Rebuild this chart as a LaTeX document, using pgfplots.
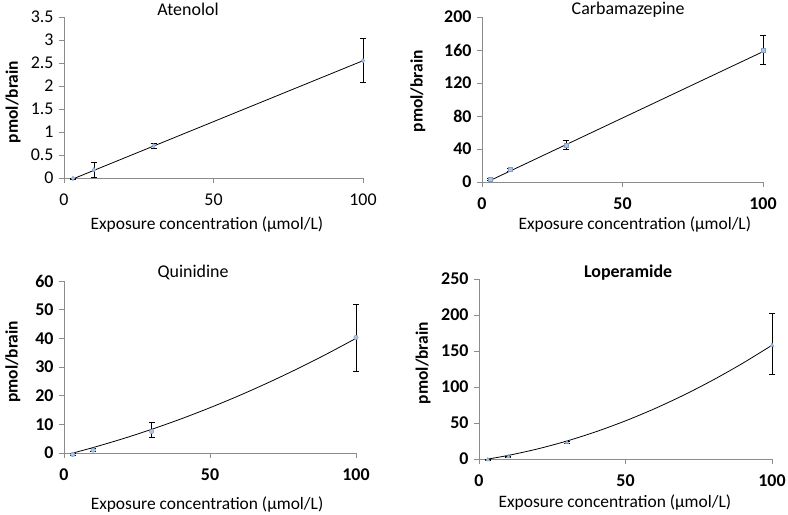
\documentclass[border=0pt]{standalone}
\usepackage{fontspec}
\setmainfont{Carlito}
\usepackage{pgfplots}
\pgfplotsset{compat=1.18}
\definecolor{mk}{HTML}{7F9FCB}
\definecolor{ax}{HTML}{8C8C8C}
\pgfplotsset{
 panel/.style={
  scale only axis, anchor=south west,
  xmin=0, xmax=100,
  axis x line=bottom, axis y line=left,
  axis line style={ax,-,line width=0.8pt},
  xtick={0,50,100}, tick align=outside, major tick length=5bp,
  tick style={ax,line width=0.8pt},
  /pgf/number format/assume math mode=true,
  ticklabel style={font=\fontsize{18}{20}\selectfont},
  xticklabel shift=7bp, yticklabel shift=2bp,
  clip=false,
  xlabel={Exposure concentration (µmol/L)},
  ylabel={\textbf{pmol/brain}},
  xlabel style={font=\fontsize{17.5}{20}\selectfont, anchor=base},
  ylabel style={font=\fontsize{17.5}{20}\selectfont, anchor=center},
  every axis title/.style={font=\fontsize{18}{20}\selectfont, anchor=base},
 },
 boldticks/.style={ticklabel style={font=\fontsize{18}{20}\selectfont\bfseries}},
 mpts/.style={
  error bars/.cd, y dir=both, y explicit,
  error bar style={black,line width=0.7pt},
  error mark options={black,rotate=90,mark size=3bp,line width=0.7pt},
  /pgfplots/.cd,
  only marks, mark size=2.2bp,
  mark options={fill=mk!60, draw=mk, line width=0.5pt}},
 fitl/.style={black,line width=0.8pt,no marks,smooth},
}
\begin{document}
\begin{tikzpicture}
\useasboundingbox (0,0) rectangle (788bp,515bp);
% Atenolol
\begin{axis}[panel, at={(64bp,337bp)}, width=299bp, height=161bp,
  ymin=0, ymax=3.5, ytick={0,0.5,...,3.5},
  yticklabels={0,0.5,1,1.5,2,2.5,3,3.5},
  title={Atenolol}, title style={at={(axis description cs:0.415,1)}, yshift=1bp},
  xlabel style={at={(axis description cs:0.478,-0.323)}},
  ylabel style={at={(axis description cs:-0.17,0.472)}}]
\addplot[fitl] coordinates {(3,-0.02) (100,2.55)};
\addplot[mpts, mark=diamond*] coordinates {
 (3,-0.01) +- (0,0.01)
 (10,0.18) +- (0,0.17)
 (30,0.70) +- (0,0.05)
 (100,2.55) +- (0,0.48)};
\end{axis}
% Carbamazepine
\begin{axis}[panel, boldticks, at={(482bp,333bp)}, width=281bp, height=165bp,
  ymin=0, ymax=200, ytick={0,40,...,200},
  title={Carbamazepine}, title style={at={(axis description cs:0.52,1)}, yshift=2bp},
  xlabel style={at={(axis description cs:0.544,-0.29)}},
  ylabel style={at={(axis description cs:-0.228,0.55)}}]
\addplot[fitl] coordinates {(3,2) (100,158)};
\addplot[mpts, mark=square*, mark size=2bp] coordinates {
 (3,3) +- (0,1)
 (10,15) +- (0,2)
 (30,45) +- (0,6)
 (100,160) +- (0,17.5)};
\end{axis}
% Quinidine
\begin{axis}[panel, boldticks, at={(64bp,62bp)}, width=292bp, height=172bp,
  ymin=0, ymax=60, ytick={0,10,...,60},
  title={Quinidine}, title style={at={(axis description cs:0.442,1)}, yshift=4bp},
  xlabel style={at={(axis description cs:0.49,-0.331)}},
  ylabel style={at={(axis description cs:-0.175,0.53)}}]
\addplot[fitl] coordinates {(3,-0.02) (10,1.91) (20,4.93) (30,8.25) (40,11.87) (50,15.8) (60,20.03) (70,24.57) (80,29.41) (90,34.55) (100,40.0)};
\addplot[mpts, mark=*] coordinates {
 (3,-0.5) +- (0,0.3)
 (10,1) +- (0,0.5)
 (30,7.5) += (0,3.3) -= (0,2.2)
 (100,40.3) += (0,11.7) -= (0,11.8)};
\end{axis}
% Loperamide
\begin{axis}[panel, boldticks, at={(479bp,56bp)}, width=293bp, height=180bp,
  ymin=0, ymax=250, ytick={0,50,...,250},
  title={\textbf{Loperamide}}, title style={at={(axis description cs:0.509,1)}, yshift=2bp},
  xlabel style={at={(axis description cs:0.464,-0.272)}},
  ylabel style={at={(axis description cs:-0.191,0.533)}}]
\addplot[fitl] coordinates {(3,-0.1) (10,5) (20,14) (30,25) (40,38) (50,53) (60,70) (70,89) (80,110) (90,133) (100,158)};
\addplot[mpts, mark=triangle*] coordinates {
 (3,-1) +- (0,0.5)
 (10,3) +- (0,1)
 (30,23) +- (0,1.5)
 (100,158) += (0,44) -= (0,40)};
\end{axis}
\end{tikzpicture}
\end{document}
